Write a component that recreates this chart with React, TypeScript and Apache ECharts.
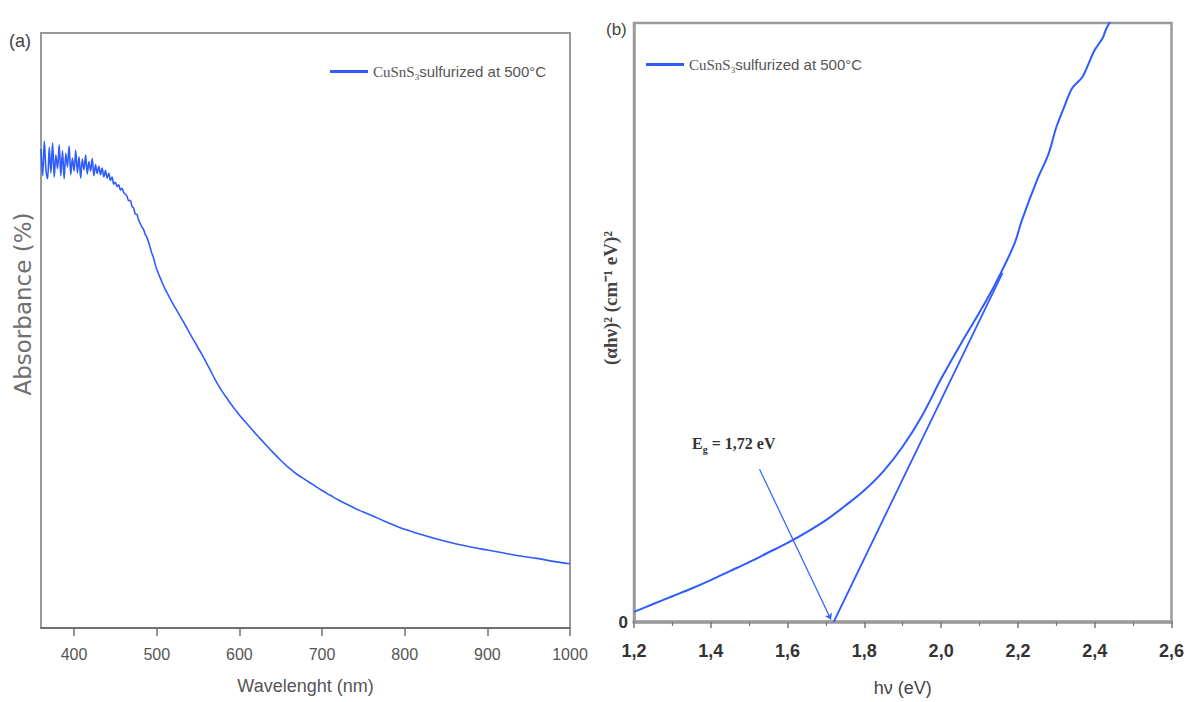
import React, { useEffect, useRef } from "react";
import * as echarts from "echarts";

// ---- Panel (a): absorbance spectrum ----
const wavelengthNm = [
  360, 362, 364, 366, 368, 370, 372, 374, 376, 378, 380, 382, 384, 386, 388, 390,
  392, 394, 396, 398, 400, 402, 404, 406, 408, 410, 412, 414, 416, 418, 420, 422,
  424, 426, 428, 430, 432, 434, 436, 438, 440, 442, 444, 446, 448, 450, 452, 454,
  456, 458, 460, 462, 464, 466, 468, 470, 472, 474, 476, 478, 480, 482, 484, 486,
  488, 490, 492, 494, 496, 498, 500, 505, 510, 515, 520, 525, 530, 535, 540, 545,
  550, 555, 560, 565, 570, 575, 580, 585, 590, 595, 600, 610, 620, 630, 640, 650,
  660, 670, 680, 690, 700, 710, 720, 730, 740, 750, 760, 770, 780, 790, 800, 820,
  840, 860, 880, 900, 920, 940, 960, 980, 1000,
];
const absorbancePct = [
  80.5, 76.0, 81.8, 77.0, 75.5, 80.8, 76.5, 81.5, 75.8, 79.5, 77.2, 81.2, 76.0, 80.2, 75.5, 79.8,
  77.5, 81.0, 76.2, 79.0, 76.8, 80.3, 76.5, 79.2, 75.6, 78.8, 77.0, 79.5, 76.3, 78.4, 76.8, 78.9,
  76.0, 77.9, 76.4, 77.6, 76.2, 77.3, 75.8, 76.9, 75.6, 76.4, 75.2, 75.8, 74.6, 74.9, 74.2, 74.5,
  73.6, 73.9, 73.2, 72.9, 72.6, 71.8, 71.9, 70.9, 70.6, 69.6, 69.5, 68.6, 68.0, 67.4, 67.0, 66.2,
  65.7, 64.9, 64.0, 63.0, 62.3, 61.2, 60.3, 58.6, 57.0, 55.7, 54.4, 53.2, 52.0, 50.8, 49.5, 48.3,
  47.1, 45.9, 44.6, 43.3, 41.9, 40.7, 39.6, 38.6, 37.6, 36.7, 35.8, 34.2, 32.6, 31.1, 29.6, 28.2,
  26.9, 25.8, 24.9, 24.0, 23.1, 22.3, 21.5, 20.8, 20.1, 19.5, 18.9, 18.3, 17.7, 17.1, 16.6, 15.7,
  14.9, 14.2, 13.6, 13.1, 12.6, 12.1, 11.7, 11.2, 10.8,
];
const wavelengthTicks = [400, 500, 600, 700, 800, 900, 1000];

// ---- Panel (b): Tauc plot ----
const photonEnergyEv = [
  1.2, 1.25, 1.3, 1.35, 1.4, 1.45, 1.5, 1.55, 1.6, 1.65, 1.7, 1.75, 1.8, 1.85, 1.9, 1.95,
  2.0, 2.05, 2.1, 2.14, 2.19, 2.21, 2.25, 2.28, 2.3, 2.32, 2.34, 2.36, 2.37, 2.4, 2.42, 2.43, 2.44,
];
const alphaHvSquared = [
  1.7, 3.0, 4.3, 5.6, 7.0, 8.5, 10.0, 11.6, 13.2, 15.0, 17.0, 19.4, 22.0, 25.2, 29.3, 34.4,
  40.6, 46.3, 51.7, 56.3, 63.0, 67.0, 73.8, 78.2, 82.6, 85.9, 89.0, 90.4, 91.2, 95.5, 97.4, 99.0, 100.2,
];
const tangentEv = [1.72, 2.16];
const tangentVal = [0, 58.3];
const pointerEv = [1.527, 1.713];
const pointerVal = [25.5, 0.4];

const SANS = "'Liberation Sans', Arial, sans-serif";
const SERIF = "'Liberation Serif', 'Times New Roman', serif";
const BLUE = "#2f5cff";

const legendRich = {
  c: { fontFamily: SERIF, fontSize: 15, color: "#555", lineHeight: 20, verticalAlign: "middle" },
  s: { fontFamily: SERIF, fontSize: 9, color: "#555", lineHeight: 20, verticalAlign: "bottom" },
  t: { fontFamily: SANS, fontSize: 15, color: "#555", lineHeight: 20, verticalAlign: "middle" },
};

export default function App() {
  const ref = useRef<HTMLDivElement>(null);
  useEffect(() => {
    if (!ref.current) return;
    const chart = echarts.init(ref.current, undefined, { renderer: "svg" });
    const seriesA = wavelengthNm.map((x, i) => [x, absorbancePct[i]]);
    const seriesB = photonEnergyEv.map((x, i) => [x, alphaHvSquared[i]]);
    const tangent = tangentEv.map((x, i) => [x, tangentVal[i]]);
    const pointer = pointerEv.map((x, i) => [x, pointerVal[i]]);

    chart.setOption({
      animation: false,
      backgroundColor: "#fff",
      grid: [
        { left: 41, top: 33, width: 529, height: 595, show: true, borderColor: "#9a9a9a", borderWidth: 2 },
        { left: 634, top: 23, width: 539, height: 600, show: true, borderColor: "#9a9a9a", borderWidth: 2.5 },
      ],
      legend: [
        {
          data: ["CuSnS3 (a)"], left: 330, top: 64, padding: 0, itemWidth: 38, itemHeight: 3,
          icon: "rect", itemGap: 5,
          formatter: () => "{c|CuSnS}{s|3}{t|sulfurized at 500°C}",
          textStyle: { rich: legendRich },
        },
        {
          data: ["CuSnS3 (b)"], left: 646, top: 57, padding: 0, itemWidth: 38, itemHeight: 3,
          icon: "rect", itemGap: 5,
          formatter: () => "{c|CuSnS}{s|3}{t|sulfurized at 500°C}",
          textStyle: { rich: legendRich },
        },
      ],
      xAxis: [
        {
          type: "value", gridIndex: 0, min: 360, max: 1000,
          axisLine: { show: true, lineStyle: { color: "#707070", width: 2 } },
          axisTick: { show: true, customValues: wavelengthTicks, length: 8, lineStyle: { color: "#707070", width: 1.5 } },
          axisLabel: {
            customValues: wavelengthTicks, margin: 18, fontSize: 16, color: "#555", fontFamily: SANS,
            formatter: (v: number) => String(v),
          },
          splitLine: { show: false },
          name: "Wavelenght (nm)", nameLocation: "middle", nameGap: 49,
          nameTextStyle: { fontSize: 18, color: "#555", fontFamily: SANS },
        },
        {
          type: "value", gridIndex: 1, min: 1.2, max: 2.6, interval: 0.2,
          axisLine: { show: true, lineStyle: { color: "#9a9a9a", width: 3.5 } },
          axisTick: { show: true, length: 6, lineStyle: { color: "#777", width: 1.5 } },
          minorTick: { show: true, splitNumber: 2, length: 4, lineStyle: { color: "#777", width: 1.2 } },
          axisLabel: {
            margin: 20, fontSize: 18, fontWeight: "bold", color: "#333", fontFamily: SANS,
            formatter: (v: number) => v.toFixed(1).replace(".", ","),
          },
          splitLine: { show: false },
          name: "hν (eV)", nameLocation: "middle", nameGap: 57,
          nameTextStyle: { fontSize: 18, color: "#444", fontFamily: SANS },
        },
      ],
      yAxis: [
        {
          type: "value", gridIndex: 0, min: 0, max: 100,
          axisLine: { show: true, lineStyle: { color: "#9a9a9a", width: 2 } },
          axisTick: { show: false }, axisLabel: { show: false }, splitLine: { show: false },
        },
        {
          type: "value", gridIndex: 1, min: 0, max: 100, interval: 100,
          axisLine: { show: true, lineStyle: { color: "#9a9a9a", width: 2.5 } },
          axisTick: { show: false }, splitLine: { show: false },
          axisLabel: {
            margin: 6, fontSize: 17, fontWeight: "bold", color: "#333", fontFamily: SANS,
            formatter: (v: number) => (v === 0 ? "0" : ""),
          },
        },
      ],
      series: [
        {
          name: "CuSnS3 (a)", type: "line", xAxisIndex: 0, yAxisIndex: 0, data: seriesA, smooth: 0.3,
          showSymbol: false, symbol: "none", lineStyle: { color: BLUE, width: 1.6 }, itemStyle: { color: BLUE },
        },
        {
          name: "CuSnS3 (b)", type: "line", xAxisIndex: 1, yAxisIndex: 1, data: seriesB, clip: true, smooth: 0.35,
          showSymbol: false, symbol: "none", lineStyle: { color: BLUE, width: 2 }, itemStyle: { color: BLUE },
        },
        {
          name: "tangent", type: "line", xAxisIndex: 1, yAxisIndex: 1, data: tangent,
          showSymbol: false, symbol: "none", lineStyle: { color: BLUE, width: 1.8 },
        },
        {
          name: "pointer", type: "lines", coordinateSystem: "cartesian2d", xAxisIndex: 1, yAxisIndex: 1,
          data: [{ coords: pointer }], symbol: ["none", "arrow"], symbolSize: 6,
          lineStyle: { color: BLUE, width: 1.2, opacity: 1 },
        },
      ],
      graphic: [
        { type: "text", x: 9, y: 41, style: { text: "(a)", fontSize: 18, fontFamily: SANS, fill: "#444", verticalAlign: "middle" } },
        { type: "text", x: 606, y: 29, style: { text: "(b)", fontSize: 17, fontFamily: SANS, fill: "#444", verticalAlign: "middle" } },
        {
          type: "text", x: 23, y: 304, rotation: Math.PI / 2,
          style: { text: "Absorbance (%)", fontSize: 23, fontFamily: "'DejaVu Sans', sans-serif", fill: "#707070", align: "center", verticalAlign: "middle" },
        },
        {
          type: "text", x: 610, y: 298, rotation: Math.PI / 2,
          style: { text: "(αhν)² (cm⁻¹ eV)²", fontSize: 19, fontWeight: "bold", fontFamily: SERIF, fill: "#444", align: "center", verticalAlign: "middle" },
        },
        {
          type: "text", x: 692, y: 443,
          style: {
            text: "{e|E}{g|g}{r| = 1,72 eV}", verticalAlign: "middle",
            rich: {
              e: { fontSize: 16, fontWeight: "bold", fontFamily: SERIF, fill: "#333", lineHeight: 20, verticalAlign: "middle" },
              g: { fontSize: 10, fontWeight: "bold", fontFamily: SERIF, fill: "#333", lineHeight: 22, verticalAlign: "bottom" },
              r: { fontSize: 16, fontWeight: "bold", fontFamily: SERIF, fill: "#333", lineHeight: 20, verticalAlign: "middle" },
            },
          },
        },
      ],
    });
    return () => chart.dispose();
  }, []);
  return <div ref={ref} style={{ position: "absolute", left: 0, top: 0, width: 1187, height: 702 }} />;
}
